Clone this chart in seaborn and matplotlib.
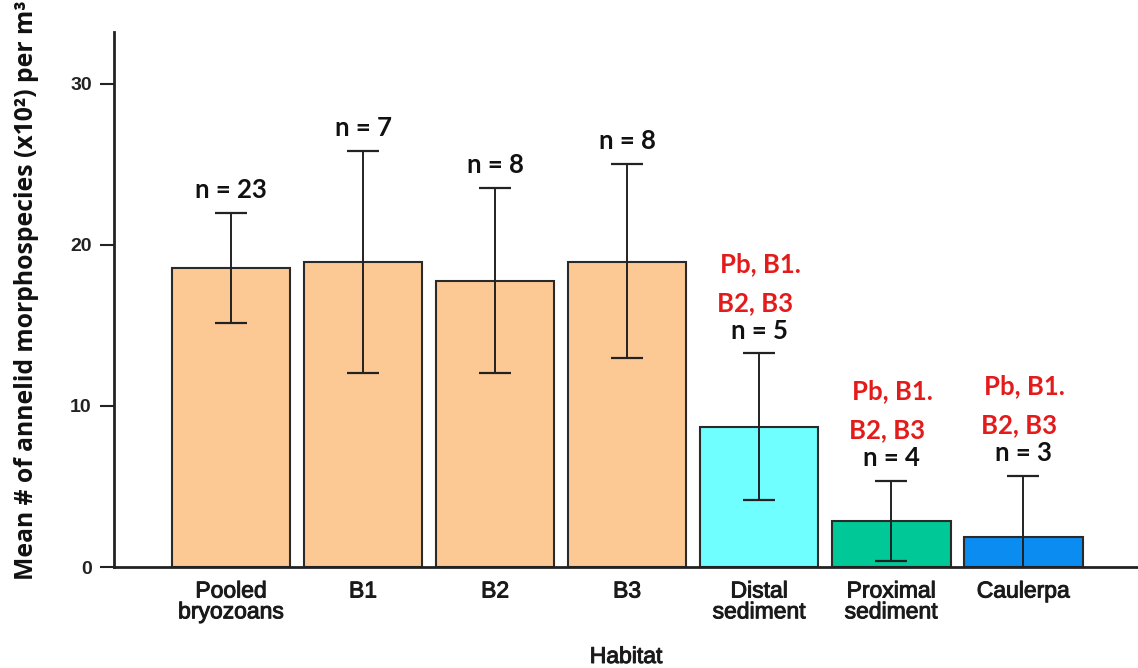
import matplotlib
matplotlib.use("Agg")
import matplotlib.pyplot as plt
import matplotlib.patheffects as pe
import seaborn as sns
import numpy as np

# ---- data ----
habitats = ["Pooled\nbryozoans", "B1", "B2", "B3", "Distal\nsediment", "Proximal\nsediment", "Caulerpa"]
means = [18.55, 18.9, 17.75, 18.95, 8.7, 2.85, 1.85]
err_upper = [21.95, 25.8, 23.5, 25.0, 13.25, 5.35, 5.65]
err_lower = [15.15, 12.05, 12.05, 12.95, 4.15, 0.4, -1.95]
n_labels = ["n = 23", "n = 7", "n = 8", "n = 8", "n = 5", "n = 4", "n = 3"]
sig_line1 = ["", "", "", "", "Pb, B1.", "Pb, B1.", "Pb, B1."]
sig_line2 = ["", "", "", "", "B2, B3", "B2, B3", "B2, B3"]
bar_colors = ["#FCC995", "#FCC995", "#FCC995", "#FCC995", "#70FFFF", "#00C896", "#0A8CF0"]
yticks = [0, 10, 20, 30]

sns.set_theme(style="ticks")
plt.rcParams['font.family'] = ['Liberation Sans', 'DejaVu Sans']

fig = plt.figure(figsize=(11.38, 6.68), dpi=100)
ax = fig.add_axes([114/1138, 1-567/668, (1138-114)/1138, (567-32)/668])

sns.barplot(x=habitats, y=means, hue=habitats, palette=bar_colors, legend=False,
            width=0.9, edgecolor="#2a2a2a", linewidth=1.5, saturation=1,
            errorbar=None, ax=ax)

xpos = np.arange(len(habitats))
means_a = np.array(means)
yerr = np.vstack([means_a - np.array(err_lower), np.array(err_upper) - means_a])
ax.errorbar(xpos, means_a, yerr=yerr, fmt="none", ecolor="#222222",
            elinewidth=1.4, capsize=11.5, capthick=1.6, zorder=5)

heavy = [pe.withStroke(linewidth=0.7, foreground="#1a1a1a")]

ax.set_xlim(-0.886, 6.87)
ax.set_ylim(0, 33.2)
ax.set_yticks(yticks)
ax.set_yticklabels([str(t) for t in yticks], fontsize=14, fontweight="bold", color="#222222")
ax.tick_params(axis="y", length=10, width=1.5, color="#222222", pad=6)
ax.tick_params(axis="x", length=0, pad=9)
for lab in ax.get_xticklabels():
    lab.set_fontsize(16.5)
    lab.set_color("#1a1a1a")
    lab.set_linespacing(0.88)
    lab.set_va("top")
    lab.set_path_effects(heavy)

sns.despine(ax=ax)
ax.spines["left"].set_linewidth(2)
ax.spines["bottom"].set_linewidth(2)
ax.spines["left"].set_color("#222222")
ax.spines["bottom"].set_color("#222222")

ax.set_xlabel("Habitat", fontsize=16.5, color="#1a1a1a", path_effects=heavy)
ax.xaxis.set_label_coords(0.5, -(645 - 567) / 535)
ax.set_ylabel("Mean # of annelid morphospecies (x10²) per m³", fontsize=17.8,
              fontweight="bold", family=["Open Sans", "DejaVu Sans"], color="#111111")
ax.yaxis.set_label_coords(-0.073, 0.518)

for i in range(len(habitats)):
    ax.annotate(n_labels[i], xy=(xpos[i], err_upper[i]), xytext=(0, 16.5),
                textcoords="offset points", ha="center", va="center",
                fontsize=18.5, fontweight="bold", family=["Lato", "DejaVu Sans"], color="#111111")
    if sig_line2[i]:
        ax.annotate(sig_line2[i], xy=(xpos[i], err_upper[i]), xytext=(-3, 36.5),
                    textcoords="offset points", ha="center", va="center",
                    fontsize=18.5, fontweight="bold", family=["Lato", "DejaVu Sans"], color="#E31B1B")
        ax.annotate(sig_line1[i], xy=(xpos[i], err_upper[i]), xytext=(1, 64.5),
                    textcoords="offset points", ha="center", va="center",
                    fontsize=18.5, fontweight="bold", family=["Lato", "DejaVu Sans"], color="#E31B1B")

fig.savefig("out.png", dpi=100)
